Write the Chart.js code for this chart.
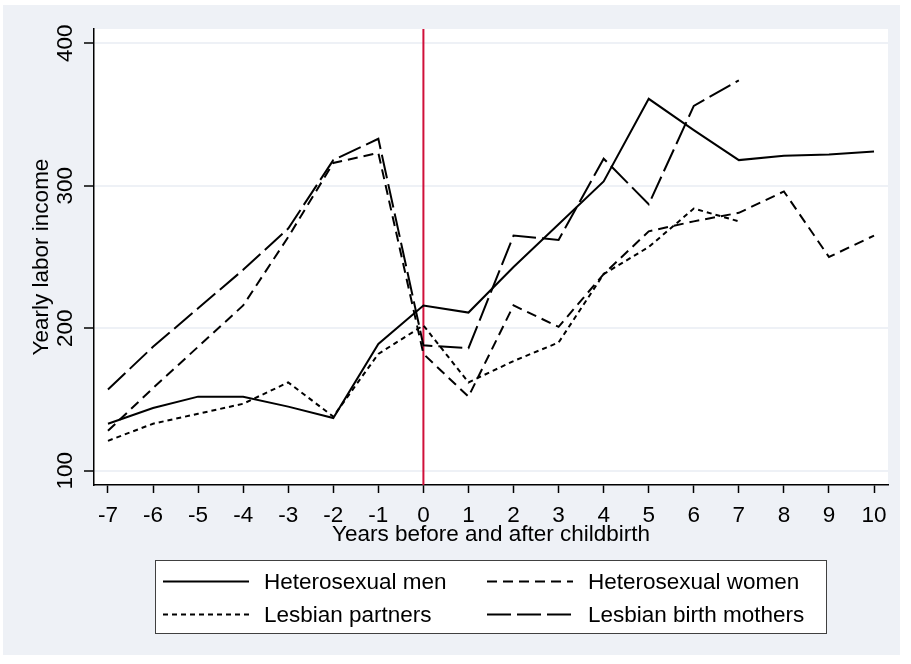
<!DOCTYPE html>
<html>
<head>
<meta charset="utf-8">
<script src="https://cdn.jsdelivr.net/npm/chart.js@4.4.1/dist/chart.umd.min.js"></script>
<style>
  html, body { margin: 0; padding: 0; background: #ffffff; }
</style>
</head>
<body>
<canvas id="incomeChart" width="911" height="664"></canvas>
<script>
// years relative to childbirth
const years = [-7, -6, -5, -4, -3, -2, -1, 0, 1, 2, 3, 4, 5, 6, 7, 8, 9, 10];

// yearly labor income per group
const heteroMen = [133, 144, 152, 152, 145, 137, 189, 216, 211, 243, 273, 303, 361, 339, 318, 321, 322, 324];
const heteroWomen = [128, 158, 187, 216, 264, 316, 323, 182, 152, 216, 201, 238, 268, 275, 281, 296, 250, 265];
const lesbianPartners = [121, 133, 140, 147, 162, 138, 182, 202, 162, 177, 190, 238, 257, 284, 275, null, null, null];
const lesbianMothers = [157, 187, 214, 241, 270, 318, 333, 188, 186, 265, 262, 319, 287, 356, 374, null, null, null];

const seriesNames = ['Heterosexual men', 'Heterosexual women', 'Lesbian partners', 'Lesbian birth mothers'];
const yTicks = [100, 200, 300, 400];

const FONT_FAMILY = "'Liberation Sans', Arial, sans-serif";
const FONT = "22.5px " + FONT_FAMILY;
const BG = '#eef1f6';

function toPoints(values) {
    return years.map((x, i) => ({ x: x, y: values[i] }));
}

// background + white plot region
const backdrop = {
    id: 'backdrop',
    beforeDraw(chart) {
        const { ctx, chartArea: a } = chart;
        ctx.save();
        ctx.fillStyle = '#ffffff';
        ctx.fillRect(0, 0, chart.width, chart.height);
        ctx.fillStyle = BG;
        ctx.fillRect(3, 5, 897, 650);
        ctx.fillStyle = '#ffffff';
        ctx.fillRect(a.left, a.top, a.right - a.left, a.bottom - a.top);
        ctx.restore();
    }
};

// red line at year 0
const birthLine = {
    id: 'birthLine',
    beforeDatasetsDraw(chart) {
        const { ctx, chartArea: a, scales: { x } } = chart;
        const px = x.getPixelForValue(0);
        ctx.save();
        ctx.strokeStyle = '#d0103a';
        ctx.lineWidth = 2;
        ctx.beginPath();
        ctx.moveTo(px, a.top);
        ctx.lineTo(px, a.bottom);
        ctx.stroke();
        ctx.restore();
    }
};

// rotated y labels, axis titles and the boxed legend
const stataText = {
    id: 'stataText',
    afterDraw(chart) {
        const { ctx, chartArea: a, scales: { y } } = chart;
        ctx.save();
        ctx.fillStyle = '#000';
        ctx.font = FONT;

        ctx.textAlign = 'center';
        ctx.textBaseline = 'alphabetic';
        yTicks.forEach(v => {
            ctx.save();
            ctx.translate(a.left - 22.5, y.getPixelForValue(v));
            ctx.rotate(-Math.PI / 2);
            ctx.fillText(String(v), 0, 0);
            ctx.restore();
        });

        ctx.save();
        ctx.translate(48, (a.top + a.bottom) / 2);
        ctx.rotate(-Math.PI / 2);
        ctx.fillText('Yearly labor income', 0, 0);
        ctx.restore();

        ctx.textBaseline = 'middle';
        ctx.fillText('Years before and after childbirth', (a.left + a.right) / 2, a.bottom + 50);

        // legend
        const box = { left: 155, top: 560, width: 671, height: 73 };
        ctx.fillStyle = '#ffffff';
        ctx.fillRect(box.left, box.top, box.width, box.height);
        ctx.strokeStyle = '#404040';
        ctx.lineWidth = 1;
        ctx.strokeRect(box.left + 0.5, box.top + 0.5, box.width, box.height);

        const cols = [{ lineX: 163, textX: 264 }, { lineX: 487, textX: 588 }];
        const rows = [box.top + 21.5, box.top + 54.5];
        chart.data.datasets.forEach((ds, i) => {
            const col = cols[i % 2];
            const rowY = rows[Math.floor(i / 2)];
            ctx.save();
            ctx.strokeStyle = '#000';
            ctx.lineWidth = ds.borderWidth;
            ctx.setLineDash(ds.borderDash || []);
            ctx.beginPath();
            ctx.moveTo(col.lineX, rowY);
            ctx.lineTo(col.lineX + 86, rowY);
            ctx.stroke();
            ctx.restore();
            ctx.fillStyle = '#000';
            ctx.textAlign = 'left';
            ctx.textBaseline = 'middle';
            ctx.fillText(ds.label, col.textX, rowY + 1);
        });
        ctx.restore();
    }
};

Chart.defaults.font.family = FONT_FAMILY;

const ctx = document.getElementById('incomeChart').getContext('2d');
const incomeChart = new Chart(ctx, {
    type: 'line',
    data: {
        datasets: [
            { label: seriesNames[0], data: toPoints(heteroMen), borderDash: [] },
            { label: seriesNames[1], data: toPoints(heteroWomen), borderDash: [10, 6] },
            { label: seriesNames[2], data: toPoints(lesbianPartners), borderDash: [5, 4] },
            { label: seriesNames[3], data: toPoints(lesbianMothers), borderDash: [24, 6] }
        ].map(ds => Object.assign(ds, {
            borderColor: '#000',
            borderWidth: 2,
            pointRadius: 0,
            tension: 0,
            fill: false
        }))
    },
    options: {
        responsive: false,
        animation: false,
        events: [],
        layout: { padding: { left: 84, right: 23, top: 29, bottom: 119 } },
        plugins: {
            legend: { display: false },
            tooltip: { enabled: false }
        },
        scales: {
            x: {
                type: 'linear',
                min: -7.31,
                max: 10.31,
                afterBuildTicks: s => { s.ticks = years.map(v => ({ value: v })); },
                afterFit: s => { s.height = 60; },
                grid: { drawOnChartArea: false, tickLength: 8, tickColor: '#000', tickWidth: 1.5 },
                border: { display: true, color: '#000', width: 1.5 },
                ticks: { color: '#000', font: { size: 22.5 }, padding: 9, maxRotation: 0, autoSkip: false }
            },
            y: {
                type: 'linear',
                min: 90,
                max: 410,
                afterBuildTicks: s => { s.ticks = yTicks.map(v => ({ value: v })); },
                afterFit: s => { s.width = 10; },
                grid: { color: BG, lineWidth: 2, tickColor: '#000', tickLength: 10, tickWidth: 1.5 },
                border: { display: true, color: '#000', width: 1.5 },
                ticks: { display: false }
            }
        }
    },
    plugins: [backdrop, birthLine, stataText]
});
</script>
</body>
</html>
